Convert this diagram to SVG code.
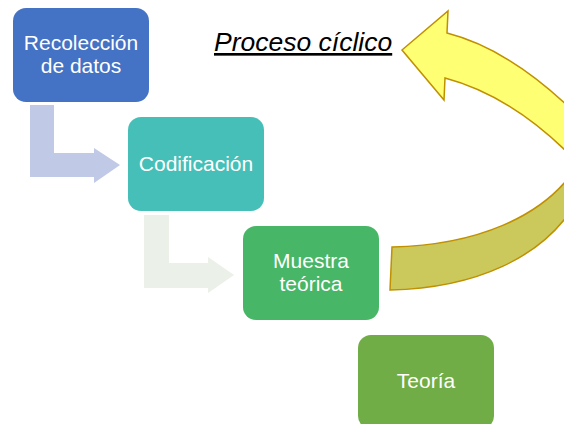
<svg xmlns="http://www.w3.org/2000/svg" width="564" height="424" viewBox="0 0 564 424">
<style>
.node text{font-family:"Liberation Sans",Arial,sans-serif;font-size:21px;fill:#fff;text-anchor:middle}
.title{font-family:"Liberation Sans",Arial,sans-serif;font-size:26.5px;font-style:italic;fill:#000;text-decoration:underline}
.cyc{stroke:#BF9000;stroke-width:1.5;stroke-linejoin:miter}
</style>
<rect width="564" height="424" fill="#fff"/>
<g id="connectors">
<path d="M30,105 H54 V153 H94 V148 L120,165 L94,183 V177 H30 Z" fill="#C0C9E5"/>
<path d="M144,215 H169 V263 H208 V257 L234,275 L208,293 V288 H144 Z" fill="#EBF0E8"/>
<g id="cycle-arrow">
<path class="cyc" d="M570,176 C540,215 480,245 392,247 L390,290 C480,288 540,255 570,212 Z" fill="#CCC95C"/>
<path class="cyc" d="M402,50 L448,11 L447,33 C490,44 530,70 570,108 L570,155 C530,115 490,90 445,78 L444,100 Z" fill="#FFFF73"/>
</g>
</g>
<text class="title" x="214" y="51">Proceso cíclico</text>
<g id="node-recoleccion" class="node">
<rect x="13" y="8" width="136" height="94" rx="13" fill="#4472C4"/>
<text x="81" y="50">Recolección</text>
<text x="81" y="73">de datos</text>
</g>
<g id="node-codificacion" class="node">
<rect x="128" y="117" width="136" height="94" rx="13" fill="#45BFB8"/>
<text x="196" y="171">Codificación</text>
</g>
<g id="node-muestra" class="node">
<rect x="243" y="226" width="136" height="94" rx="13" fill="#48B667"/>
<text x="311" y="268">Muestra</text>
<text x="311" y="291">teórica</text>
</g>
<g id="node-teoria" class="node">
<rect x="358" y="335" width="136" height="94" rx="13" fill="#70AD47"/>
<text x="426" y="388">Teoría</text>
</g>
</svg>
